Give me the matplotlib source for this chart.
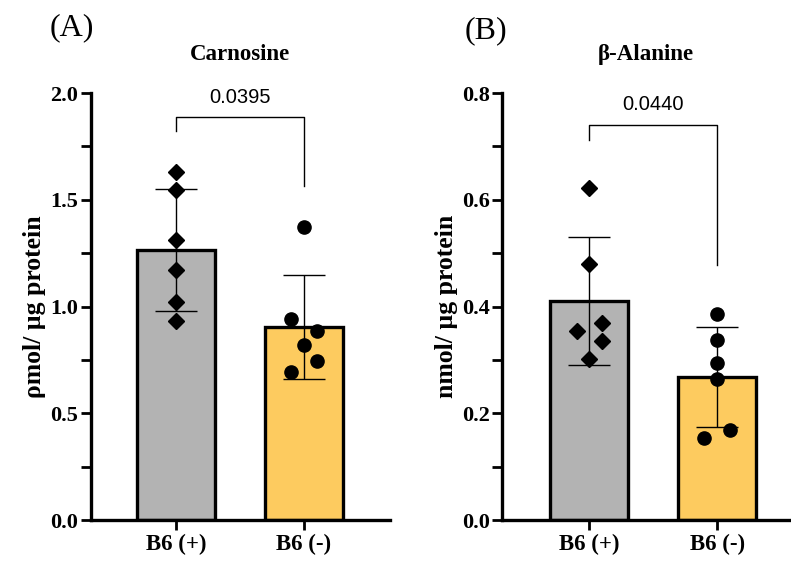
import numpy as np
import matplotlib.pyplot as plt

groups = ['B6 (+)', 'B6 (-)']

# Carnosine (pmol/ug protein)
carn_mean = [1.265, 0.904]
carn_sd = [0.285, 0.245]
carn_plus = [1.63, 1.545, 1.31, 1.17, 1.02, 0.933]
carn_minus = [1.374, 0.941, 0.885, 0.82, 0.743, 0.695]
carn_minus_dx = [0.0, -0.1, 0.1, 0.0, 0.1, -0.1]
carn_p = '0.0395'

# beta-alanine (nmol/ug protein)
ala_mean = [0.410, 0.268]
ala_sd = [0.120, 0.093]
ala_plus = [0.622, 0.479, 0.37, 0.355, 0.335, 0.302]
ala_plus_dx = [0.0, 0.0, 0.1, -0.1, 0.1, 0.0]
ala_minus = [0.387, 0.337, 0.295, 0.265, 0.169, 0.154]
ala_minus_dx = [0.0, 0.0, 0.0, 0.0, 0.1, -0.1]
ala_p = '0.0440'

bar_colors = ['#b3b3b3', '#fdcb5f']
serif = 'Liberation Serif'

fig = plt.figure(figsize=(7.91, 5.61), dpi=100)
axA = fig.add_axes([0.115, 0.073, 0.378, 0.761])
axB = fig.add_axes([0.635, 0.073, 0.364, 0.761])


def panel(ax, mean, sd, plus, plus_dx, minus, minus_dx, ymax, step, ylabel, title, p, brk):
    x = np.arange(len(groups))
    ax.bar(x, mean, width=0.61, color=bar_colors, edgecolor='black', linewidth=2.4, zorder=1)
    ax.errorbar(x, mean, yerr=sd, fmt='none', ecolor='black', elinewidth=1,
                capsize=15, capthick=1, zorder=2)
    ax.plot(x[0] + np.array(plus_dx), plus, 'D', color='black', ms=8, zorder=3)
    ax.plot(x[1] + np.array(minus_dx), minus, 'o', color='black', ms=9.5, zorder=3)

    # significance bracket
    top, left_end, right_end = brk
    ax.plot([0, 0, 1, 1], [left_end, top, top, right_end], color='black', lw=1)
    ax.text(0.5, top + ymax * 0.025, p, ha='center', va='bottom', fontsize=14.5,
            family='Liberation Sans')

    ax.set_ylim(0, ymax)
    ax.set_yticks(np.arange(0, ymax + 1e-9, step))
    ax.set_yticks(np.arange(step / 2, ymax, step), minor=True)
    ax.set_yticklabels([f'{v:.1f}' for v in np.arange(0, ymax + 1e-9, step)])
    ax.set_xticks(x)
    ax.set_xticklabels(groups)
    for lab in ax.get_yticklabels():
        lab.set_family(serif)
        lab.set_fontweight('bold')
        lab.set_fontsize(16)
    for lab in ax.get_xticklabels():
        lab.set_family(serif)
        lab.set_fontweight('bold')
        lab.set_fontsize(16.5)
    ax.tick_params(which='both', width=2, length=7)
    ax.tick_params(axis='x', pad=3)
    ax.tick_params(axis='y', pad=2)
    for s in ['top', 'right']:
        ax.spines[s].set_visible(False)
    for s in ['left', 'bottom']:
        ax.spines[s].set_linewidth(2.4)
    ax.set_ylabel(ylabel, family=serif, fontweight='bold', fontsize=18.5, labelpad=3)
    ax.set_title(title, family=serif, fontweight='bold', fontsize=16.5, pad=24)


panel(axA, carn_mean, carn_sd, carn_plus, [0] * 6, carn_minus, carn_minus_dx,
      2.0, 0.5, '\u03c1mol/ \u00b5g protein', 'Carnosine', carn_p, (1.887, 1.823, 1.566))
axA.set_xlim(-0.664, 1.672)

panel(axB, ala_mean, ala_sd, ala_plus, ala_plus_dx, ala_minus, ala_minus_dx,
      0.8, 0.2, 'nmol/ \u00b5g protein', '\u03b2-Alanine', ala_p, (0.741, 0.712, 0.478))
axB.set_xlim(-0.68, 1.57)

fig.text(0.063, 0.95, '(A)', family=serif, fontsize=23, ha='left', va='center')
fig.text(0.587, 0.945, '(B)', family=serif, fontsize=23, ha='left', va='center')

fig.savefig('out.png', dpi=100)
